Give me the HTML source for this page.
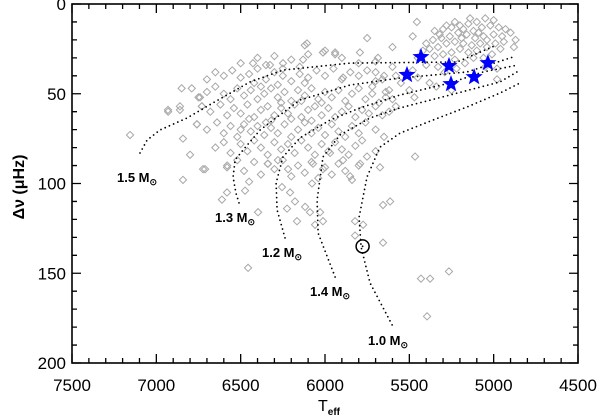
<!DOCTYPE html>
<html><head><meta charset="utf-8"><style>
body{margin:0;background:#fff}
svg{display:block;font-family:"Liberation Sans",sans-serif}
</style></head><body>
<svg id="c" width="600" height="417" xmlns="http://www.w3.org/2000/svg">
<g id="pts"></g>
<g id="trk"></g>
<g id="stars"></g>
<g id="axes"></g>
</svg>
<script>
const xTicks=[7500,7000,6500,6000,5500,5000,4500];
const yTicks=[0,50,100,150,200];
const pointT=[5050,5000,5100,5150,5200,5250,5300,5350,5230,5180,5120,5070,5020,4970,4930,4900,4870,4950,5000,5060,5110,5160,5210,5260,5310,5360,5400,5380,5330,5280,5230,5180,5130,5080,5040,4990,4940,5200,5150,5100,5250,5300,5350,5420,5450,5280,5140,5320,5190,5090,5040,4960,4880,5010,5060,5230,5170,5120,5400,5330,5290,5220,5480,5450,5380,5340,5250,5500,5470,5550,5580,5600,5620,5640,5660,5700,5720,5480,5600,5050,4980,4980,5455,5750,6107,6012,5940,5793,5686,
6500,6400,6300,6200,6100,6000,5900,5800,5700,6350,6250,6150,
6700,6650,6600,6550,6500,6450,6400,6350,6300,6250,6200,6150,6100,6050,6000,5950,5900,5850,5800,5750,5700,5650,6420,6280,6120,
6850,6790,6750,6700,6650,6600,6560,6520,6480,6440,6400,6360,6320,6280,6240,6200,6160,6120,6080,6040,6000,5960,5920,5880,5840,5800,5760,5720,5680,5640,5600,6380,6260,6140,6020,
6930,6860,6730,6680,6620,6580,6540,6500,6460,6420,6380,6340,6300,6260,6220,6180,6140,6100,6060,6020,5980,5940,5900,5860,5820,5780,5740,5700,5660,5620,5580,6450,6320,6200,6080,
7156,6760,6700,6640,6600,6560,6520,6480,6440,6400,6360,6320,6280,6240,6200,6160,6120,6080,6040,6000,5960,5920,5880,5840,5800,5760,5700,5650,6842,6500,6350,
6800,6650,6600,6560,6500,6460,6420,6380,6340,6300,6260,6220,6180,6140,6100,6060,6020,5980,5940,5900,5860,5820,5780,5466,5700,
6842,6723,6580,6520,6480,6420,6380,6340,6300,6250,6200,6160,6120,6080,6040,6000,5960,5920,5880,5840,5800,6450,
6581,6711,6474,6581,6611,6397,6338,6279,6219,6255,6207,6178,6225,6166,6118,6077,6071,6012,5970,5893,5851,5792,5751,5674,6089,6029,6059,6012,5822,5774,5822,5656,5656,5614,6456,
5431,5377,5265,5395,6120,6931,6860,6427,6326,6249,6130,6012,5940,5893,6741,6730,6759];
const pointD=[8,9,10,11,12,13,14,15,10,14,15,13,12,13,14,16,20,18,17,18,19,17,16,18,19,20,22,25,24,22,21,22,23,22,24,22,21,25,27,26,27,28,29,26,30,12,8,17,19,16,20,25,24,28,30,31,33,30,34,35,38,36,37,41,44,46,48,48,52,44,40,35,48,52,42,38,46,18,24,35,36,42,10,19,22,27,27,27,30,
33,30,29,31,28,26,30,33,32,34,36,35,
42,38,40,37,41,39,36,42,38,40,43,39,41,37,40,36,42,38,40,37,43,40,44,45,44,
47,47,52,49,46,50,53,47,51,48,53,50,47,52,49,54,48,51,47,53,49,52,48,54,50,47,53,50,55,49,53,46,55,54,55,
60,57,57,60,56,62,58,61,56,63,59,57,62,58,61,56,63,59,57,62,58,63,60,57,63,59,61,57,62,60,57,64,65,64,65,
73,67,70,66,72,68,74,67,71,68,73,69,72,67,74,70,66,72,69,73,67,71,74,68,72,66,70,74,75,70,66,
84,80,77,83,78,82,76,80,84,77,81,78,83,76,80,84,78,82,77,81,84,79,76,85,82,
98,92,90,87,93,88,95,89,92,87,96,90,94,88,97,91,95,89,93,98,90,99,
91,92,104,105,109,116,89,87,92,102,105,110,114,121,113,100,89,92,83,87,96,89,85,91,116,116,123,121,121,123,129,133,112,110,147,
153,153,149,174,23,59,59,33,34,33,31,27,28,41,52,57,67];
const starT=[5431,5514,5265,5253,5116,5034];
const starD=[29.5,39.5,34.5,44.6,40.7,32.9];
const trackNames=["1.5","1.3","1.2","1.4","1.0"];
const track15T=[7097,7055,6978,6818,6664,6444,6249,5851,5217,4980];
const track15D=[83,75.8,70.2,63.5,55.1,43.4,36.8,32.9,32.3,22.8];
const track13T=[6510,6528,6545,6533,6486,6385,6267,6148,5851,5555,5158,4885];
const track13D=[110.8,105.3,96.4,86.9,81.4,70.2,61.8,53.5,45.1,41.2,37.9,29.5];
const track12T=[6237,6284,6290,6249,6148,5970,5792,5555,5259,5063,4855];
const track12D=[130.3,114.7,99.7,85.2,74.6,64.6,57.9,50.7,44,37.9,34];
const track14T=[5940,6041,6047,6012,5911,5733,5555,5259,4962,4843];
const track14D=[152.1,127.6,109.2,85.2,73,63.5,57.9,50.7,43.4,36.8];
const track10T=[5602,5733,5786,5798,5751,5674,5555,5359,5158,4962,4843];
const track10D=[178.8,155.4,135.4,118.7,96.4,79.7,71.9,64.6,57.4,49.6,44];
const sunT=[5777], sunD=[135];

const L=72,R=578,T0=4,B=363;
const sx=t=>L+(7500-t)*(R-L)/3000;
const sy=d=>T0+d*(B-T0)/200;
const NS="http://www.w3.org/2000/svg";
function mk(tag,attrs,parent){const e=document.createElementNS(NS,tag);for(const k in attrs)e.setAttribute(k,attrs[k]);parent.appendChild(e);return e;}
const pts=document.getElementById('pts');
for(let i=0;i<pointT.length;i++){
  const x=sx(pointT[i]),y=sy(pointD[i]),r=3.6;
  const p=mk('path',{d:`M${x-r},${y}L${x},${y-r}L${x+r},${y}L${x},${y+r}Z`,fill:'none',stroke:'#a8a8a8','stroke-width':1},pts);
  
  
}
const trk=document.getElementById('trk');
const tracks=[[track15T,track15D],[track13T,track13D],[track12T,track12D],[track14T,track14D],[track10T,track10D]];
tracks.forEach((tr,k)=>{
  const d=tr[0].map((t,i)=>(i?'L':'M')+sx(t).toFixed(1)+','+sy(tr[1][i]).toFixed(1)).join('');
  const p=mk('path',{d:d,fill:'none',stroke:'#000','stroke-width':1.8,'stroke-linecap':'round','stroke-dasharray':'0 4.6'},trk);
  
  
});
const labelPos=[[117,182],[215,222],[262,257],[310,296],[368,345]];
trackNames.forEach((n,k)=>{
  const t=mk('text',{x:labelPos[k][0],y:labelPos[k][1],'font-size':13,'font-weight':'600',fill:'#000'},trk);
  
  
  t.innerHTML=n+' M<tspan font-size="9" dy="3">⊙</tspan>';
});
const sun=mk('circle',{cx:sx(sunT[0]),cy:sy(sunD[0]),r:6.5,fill:'none',stroke:'#000','stroke-width':1.5},trk);


const sund=mk('circle',{cx:sx(sunT[0]),cy:sy(sunD[0]),r:0.9,fill:'#000'},trk);


const stars=document.getElementById('stars');
starT.forEach((t,i)=>{
  const cx=sx(t),cy=sy(starD[i]),ro=9,ri=3.8;let d='';
  for(let j=0;j<10;j++){const a=-Math.PI/2+j*Math.PI/5,r=j%2?ri:ro;d+=(j?'L':'M')+(cx+r*Math.cos(a)).toFixed(1)+','+(cy+r*Math.sin(a)).toFixed(1);}
  const p=mk('path',{d:d+'Z',fill:'#0000ff'},stars);
  
  
});
const ax=document.getElementById('axes');
const fr=mk('rect',{x:L,y:T0,width:R-L,height:B-T0,fill:'none',stroke:'#000','stroke-width':1.6},ax);


let td='';
for(let t=7500;t>=4500;t-=100){const x=sx(t),len=(t%500===0)?9:5;td+=`M${x},${B}v${-len}M${x},${T0}v${len}`;}
for(let d=0;d<=200;d+=10){const y=sy(d),len=(d%50===0)?9:5;td+=`M${L},${y}h${len}M${R},${y}h${-len}`;}
const tk=mk('path',{d:td,stroke:'#000','stroke-width':1.3},ax);


xTicks.forEach(t=>{const e=mk('text',{x:sx(t),y:391,'font-size':17,'text-anchor':'middle'},ax);e.textContent=t;
  
  });
yTicks.forEach(d=>{const e=mk('text',{x:66,y:sy(d)+6,'font-size':17,'text-anchor':'end'},ax);e.textContent=d;
  
  });
const xt=mk('text',{x:318,y:411,'font-size':16},ax);


xt.innerHTML='T<tspan font-size="10" dy="4" font-weight="bold">eff</tspan>';
const yt=mk('text',{x:0,y:0,'font-size':16,'font-weight':'bold','text-anchor':'middle',transform:'translate(24,187) rotate(-90)'},ax);


yt.textContent='Δν (μHz)';
</script>
</body></html>
